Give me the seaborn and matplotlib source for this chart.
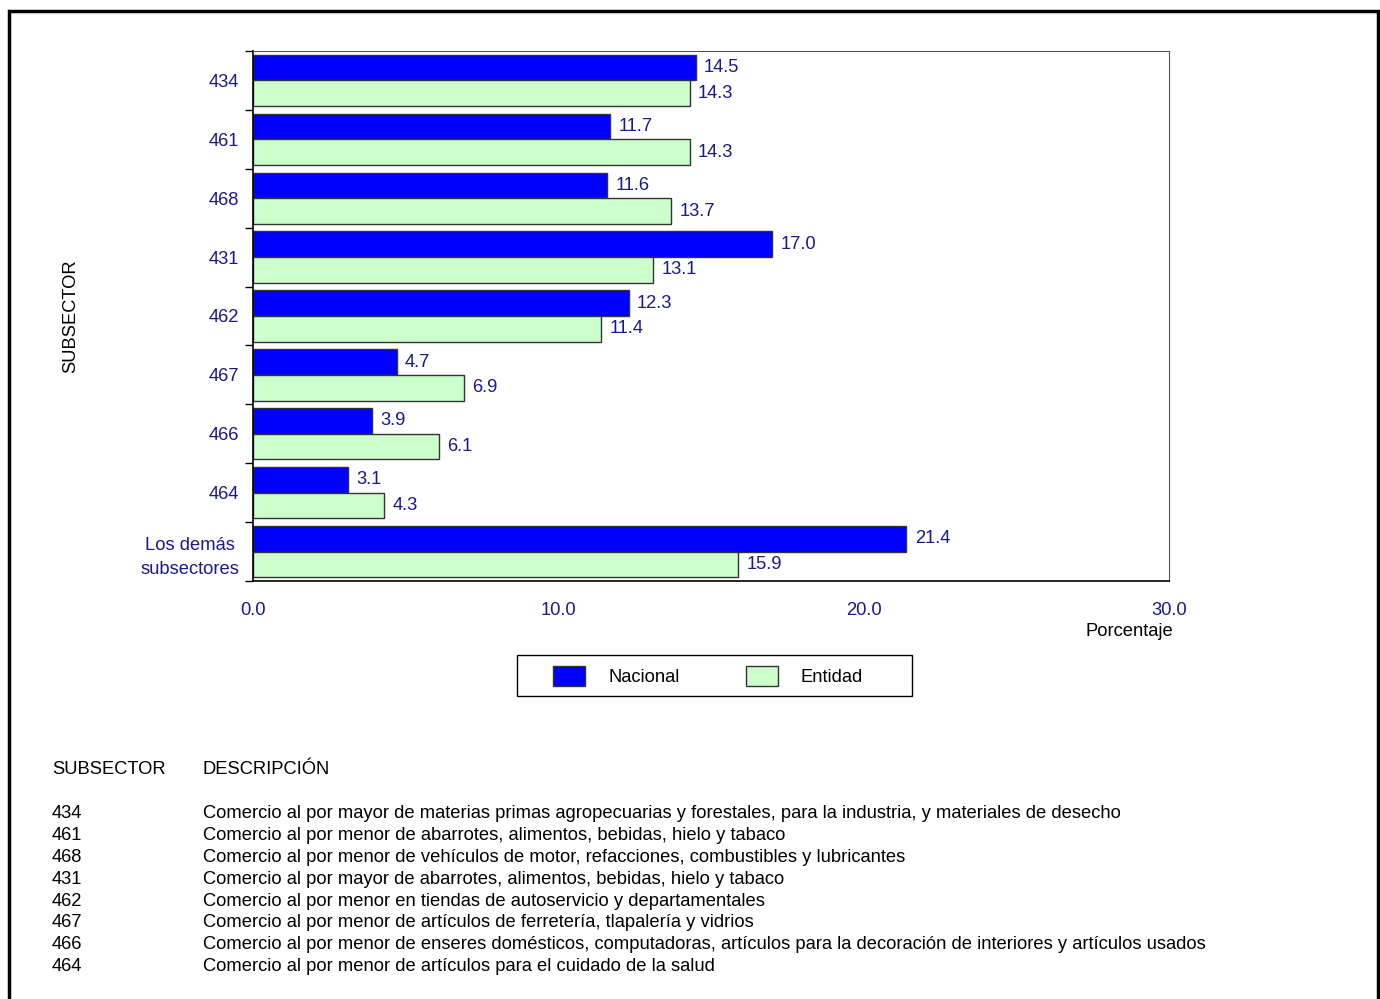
import pandas as pd
import matplotlib.pyplot as plt
import seaborn as sns
from matplotlib.patches import Rectangle, Patch

# Data
subsectores = ["434", "461", "468", "431", "462", "467", "466", "464", "Los demás\nsubsectores"]
nacional = [14.5, 11.7, 11.6, 17.0, 12.3, 4.7, 3.9, 3.1, 21.4]
entidad = [14.3, 14.3, 13.7, 13.1, 11.4, 6.9, 6.1, 4.3, 15.9]
series = ["Nacional", "Entidad"]
x_ticks = [0, 10, 20, 30]

desc_codes = ["434", "461", "468", "431", "462", "467", "466", "464"]
descripciones = [
    "Comercio al por mayor de materias primas agropecuarias y forestales, para la industria, y materiales de desecho",
    "Comercio al por menor de abarrotes, alimentos, bebidas, hielo y tabaco",
    "Comercio al por menor de vehículos de motor, refacciones, combustibles y lubricantes",
    "Comercio al por mayor de abarrotes, alimentos, bebidas, hielo y tabaco",
    "Comercio al por menor en tiendas de autoservicio y departamentales",
    "Comercio al por menor de artículos de ferretería, tlapalería y vidrios",
    "Comercio al por menor de enseres domésticos, computadoras, artículos para la decoración de interiores y artículos usados",
    "Comercio al por menor de artículos para el cuidado de la salud",
]

sns.set_style("white")
plt.rcParams['font.family'] = ['Liberation Sans', 'DejaVu Sans']
plt.rcParams['text.color'] = 'black'
plt.rcParams['axes.labelcolor'] = 'black'

FS = 13.2
NAVY = '#1a1a8a'
colors = {"Nacional": "#0000FF", "Entidad": "#CCFFCC"}

df = pd.DataFrame({
    "subsector": subsectores * 2,
    "serie": ["Nacional"] * len(nacional) + ["Entidad"] * len(entidad),
    "valor": nacional + entidad,
})

fig = plt.figure(figsize=(13.8, 9.99), dpi=100)
ax = fig.add_axes([253 / 1380, 1 - 581 / 999, (1169 - 253) / 1380, (581 - 51) / 999])

sns.barplot(data=df, y="subsector", x="valor", hue="serie", hue_order=series,
            palette=colors, orient="h", width=0.87, ax=ax, legend=False,
            edgecolor="#333333", linewidth=1, saturation=1)

# value labels
for cont in ax.containers:
    ax.bar_label(cont, fmt="%.1f", padding=6, color=NAVY, fontsize=FS)

ax.set_xlim(0, 30)
ax.set_ylim(len(subsectores) - 0.5, -0.5)
ax.set_xticks(x_ticks)
ax.set_xticklabels([f"{v:.1f}" for v in x_ticks], color=NAVY, fontsize=FS)
ax.tick_params(axis='x', direction='out', length=6, width=1, pad=9, colors='black', labelcolor=NAVY)

# category boundaries as tick marks, labels at centers
ax.set_yticks([i - 0.5 for i in range(len(subsectores) + 1)])
ax.set_yticklabels([])
ax.set_yticks(range(len(subsectores)), minor=True)
ax.set_yticklabels(subsectores, minor=True, color=NAVY, fontsize=FS,
                   multialignment='center', linespacing=1.55)
ax.tick_params(axis='y', which='major', direction='out', length=6, width=1, left=True, colors='black')
ax.tick_params(axis='y', which='minor', length=0, pad=10, labelcolor=NAVY)

ax.set_xlabel("")
ax.set_ylabel("SUBSECTOR", fontsize=FS, color='black', labelpad=44)
for side in ['left', 'bottom']:
    ax.spines[side].set_color('black')
    ax.spines[side].set_linewidth(1.2)
for side in ['top', 'right']:
    ax.spines[side].set_color('#555555')
    ax.spines[side].set_linewidth(0.8)
ax.grid(False)

fig.text(1173 / 1380, 1 - 632 / 999, "Porcentaje", ha='right', va='center', fontsize=FS, color='black')

# legend: entries without frame, box drawn separately
handles = [Patch(facecolor=colors[s], edgecolor='#333333', label=s) for s in series]
fig.legend(handles=handles, loc='center', ncol=2,
           bbox_to_anchor=(708 / 1380, 1 - 676 / 999),
           frameon=False, fontsize=FS,
           handlelength=1.75, handleheight=1.3, handletextpad=1.25, columnspacing=3.6,
           borderpad=0, borderaxespad=0)
fig.add_artist(Rectangle((517 / 1380, 1 - 696 / 999), (912 - 517) / 1380, 41 / 999,
                         transform=fig.transFigure, fill=False, edgecolor='black', linewidth=1))

# description table
fig.text(52 / 1380, 1 - 770 / 999, "SUBSECTOR", ha='left', va='center', fontsize=FS)
fig.text(203 / 1380, 1 - 770 / 999, "DESCRIPCIÓN", ha='left', va='center', fontsize=FS)
for i, (code, desc) in enumerate(zip(desc_codes, descripciones)):
    y = 1 - (814 + i * 21.75) / 999
    fig.text(52 / 1380, y, code, ha='left', va='center', fontsize=FS)
    fig.text(203 / 1380, y, desc, ha='left', va='center', fontsize=FS)

# outer frame
fig.add_artist(Rectangle((9 / 1380, -0.02), (1378 - 9) / 1380, 1 - 11 / 999 + 0.02,
                         transform=fig.transFigure, fill=False, edgecolor='black', linewidth=2.5))

fig.savefig("out.png", dpi=100)
